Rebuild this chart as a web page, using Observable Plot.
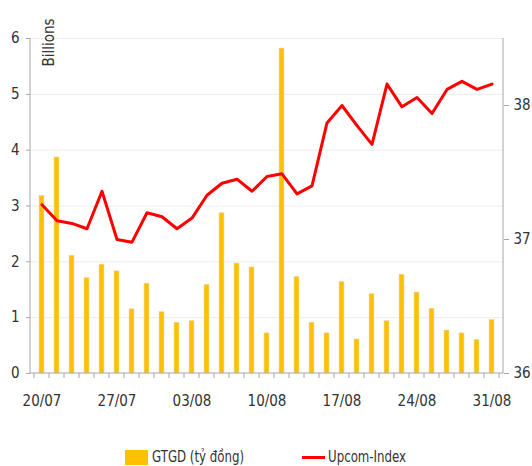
<!DOCTYPE html>
<html><head><meta charset="utf-8">
<script src="https://cdn.jsdelivr.net/npm/d3@7"></script>
<script src="https://cdn.jsdelivr.net/npm/@observablehq/plot@0.6"></script>
<style>
body{margin:0;background:#fff;}
#wrap{position:relative;width:532px;height:466px;overflow:hidden;font-family:"Liberation Sans Narrow","DejaVu Sans Condensed","Roboto Condensed",sans-serif;color:#333;}
#legend .sw{position:absolute;}
#legend .lb{position:absolute;font-size:16px;line-height:18px;white-space:nowrap;transform:scaleX(0.82);transform-origin:0 50%;}
</style></head><body>
<div id="wrap"><div id="chart"></div>
<div id="legend">
  <div class="sw" style="left:125px;top:450px;width:23px;height:15px;background:#FFC000"></div>
  <div class="lb" style="left:152px;top:448px">GTGD (tỷ đồng)</div>
  <div class="sw" style="left:302px;top:456px;width:23px;height:3px;background:#FF0000"></div>
  <div class="lb" style="left:328px;top:448px">Upcom-Index</div>
</div></div>
<script>
const dates = ["20/07","21/07","22/07","23/07","24/07","27/07","28/07","29/07","30/07","31/07",
  "03/08","04/08","05/08","06/08","07/08","10/08","11/08","12/08","13/08","14/08",
  "17/08","18/08","19/08","20/08","21/08","24/08","25/08","26/08","27/08","28/08","31/08"];
const gtgd = [3.18, 3.87, 2.11, 1.71, 1.95, 1.83, 1.15, 1.61, 1.10, 0.91,
  0.94, 1.59, 2.87, 1.97, 1.90, 0.72, 5.82, 1.73, 0.91, 0.72,
  1.64, 0.61, 1.42, 0.94, 1.77, 1.45, 1.16, 0.77, 0.72, 0.60, 0.96];
const upcom = [37.26, 37.14, 37.12, 37.08, 37.36, 37.00, 36.98, 37.20, 37.17, 37.08,
  37.16, 37.33, 37.42, 37.45, 37.36, 37.47, 37.49, 37.34, 37.40, 37.87,
  38.00, 37.85, 37.71, 38.16, 37.99, 38.06, 37.94, 38.12, 38.18, 38.12, 38.16];
const leftTicks = [0, 1, 2, 3, 4, 5, 6];
const rightTicks = [36, 37, 38];
const dateLabels = ["20/07","27/07","03/08","10/08","17/08","24/08","31/08"];

const rightMin = 36, rightMax = 38.5, leftMax = 6;
const toLeft = v => (v - rightMin) / (rightMax - rightMin) * leftMax;
const fromLeft = y => y / leftMax * (rightMax - rightMin) + rightMin;
const rows = dates.map((d, i) => ({date: d, gtgd: gtgd[i], upcom: upcom[i]}));
const axisColor = "#a6a6a6", gridColor = "#ececec", textColor = "#333";

function frameLines(index, scales, values, dimensions) {
  const {width, height, marginLeft, marginRight, marginTop, marginBottom} = dimensions;
  const x = scales.x;
  const y0 = height - marginBottom;
  const g = d3.create("svg:g").attr("stroke", axisColor).attr("fill", "none");
  const step = x.step(), bw = x.bandwidth();
  const xs = dates.map(d => x(d) + bw / 2 - step / 2);
  xs.push(x(dates[dates.length - 1]) + bw / 2 + step / 2);
  g.selectAll("line.t").data(xs).join("line").attr("class", "t")
    .attr("x1", d => d).attr("x2", d => d).attr("y1", y0).attr("y2", y0 + 5);
  g.append("line").attr("x1", marginLeft).attr("x2", marginLeft).attr("y1", marginTop).attr("y2", y0);
  g.append("line").attr("x1", width - marginRight).attr("x2", width - marginRight).attr("y1", marginTop).attr("y2", y0);
  g.append("line").attr("x1", marginLeft).attr("x2", width - marginRight).attr("y1", y0).attr("y2", y0);
  return g.node();
}

const chart = Plot.plot({
  width: 532,
  height: 440,
  marginTop: 38,
  marginBottom: 67,
  marginLeft: 30,
  marginRight: 29,
  style: {fontFamily: '"Liberation Sans Narrow","DejaVu Sans Condensed",sans-serif', fontSize: "14px", color: textColor, background: "#fff"},
  x: {type: "band", domain: dates, paddingInner: 0.65, paddingOuter: 0.325, axis: null},
  y: {domain: [0, leftMax], axis: null},
  marks: [
    Plot.ruleY(leftTicks.filter(t => t > 0), {stroke: gridColor}),
    Plot.barY(rows, {x: "date", y: "gtgd", fill: "#FFC000", stroke: "#e6dcc0", strokeWidth: 0.6}),
    Plot.line(rows, {x: "date", y: d => toLeft(d.upcom), stroke: "#FF0000", strokeWidth: 3, strokeLinejoin: "round"}),
    frameLines,
    Plot.axisY(leftTicks, {anchor: "left", tickSize: 4, tickPadding: 7, label: null, tickFormat: d3.format("d"), stroke: axisColor, fill: textColor, fontSize: 15}),
    Plot.axisY(rightTicks.map(toLeft), {anchor: "right", tickSize: 5, tickPadding: 5, label: null, tickFormat: v => String(Math.round(fromLeft(v))), stroke: axisColor, fill: textColor, fontSize: 15}),
    Plot.axisX(dateLabels, {anchor: "bottom", tickSize: 0, tickPadding: 22, label: null, fill: textColor, fontSize: 15}),
    Plot.text(["Billions"], {frameAnchor: "top-left", dx: 13, dy: 4, rotate: -90, textAnchor: "middle", fontSize: 15, fill: textColor})
  ]
});
document.getElementById("chart").appendChild(chart);
</script>
</body></html>
